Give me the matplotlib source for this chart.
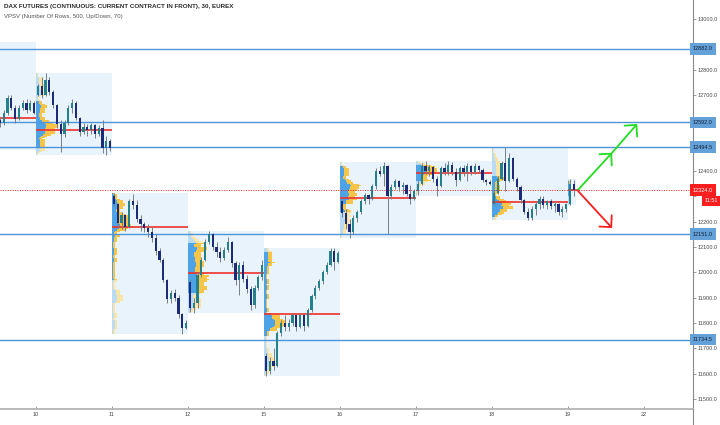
import matplotlib
matplotlib.use('Agg')
import matplotlib.pyplot as plt
import matplotlib.transforms as mtransforms
from matplotlib.patches import Rectangle
import numpy as np

plt.rcParams['font.family'] = ['Liberation Sans', 'DejaVu Sans']

# ---------------- data ----------------
title_main = 'DAX FUTURES (CONTINUOUS: CURRENT CONTRACT IN FRONT), 30, EUREX'
title_sub = 'VPSV (Number Of Rows, 500, Up/Down, 70)'

day_labels = ['10', '11', '12', '15', '16', '17', '18', '19', '22']
bars_per_session = 20

# bars: (open, high, low, close)
s09 = [(12600, 12615, 12575, 12590), (12590, 12640, 12580, 12630), (12630, 12700, 12620, 12690),
       (12690, 12700, 12640, 12650), (12650, 12660, 12590, 12605), (12605, 12660, 12600, 12650),
       (12650, 12680, 12640, 12670), (12670, 12685, 12630, 12640), (12640, 12680, 12635, 12670),
       (12670, 12675, 12625, 12630)]
s10 = [(12700, 12745, 12695, 12735), (12735, 12770, 12690, 12700), (12700, 12785, 12695, 12760),
       (12760, 12770, 12700, 12710), (12710, 12720, 12650, 12660), (12660, 12665, 12570, 12585),
       (12585, 12600, 12475, 12545), (12545, 12600, 12535, 12590), (12590, 12660, 12580, 12650),
       (12650, 12685, 12630, 12670), (12670, 12675, 12600, 12610), (12610, 12615, 12540, 12555),
       (12555, 12590, 12545, 12575), (12575, 12585, 12540, 12560), (12560, 12590, 12545, 12580),
       (12580, 12585, 12530, 12545), (12545, 12580, 12540, 12570), (12570, 12600, 12470, 12490),
       (12490, 12540, 12465, 12520), (12520, 12525, 12480, 12490)]
s11 = [(12300, 12315, 12260, 12270), (12270, 12275, 12175, 12195), (12195, 12240, 12170, 12225),
       (12225, 12230, 12165, 12180), (12180, 12290, 12175, 12280), (12280, 12310, 12250, 12265),
       (12265, 12285, 12200, 12210), (12210, 12225, 12165, 12190), (12190, 12200, 12160, 12175),
       (12175, 12190, 12140, 12160), (12160, 12180, 12120, 12135), (12135, 12150, 12070, 12085),
       (12085, 12095, 12040, 12050), (12050, 12055, 11960, 11970), (11970, 11975, 11880, 11895),
       (11895, 11930, 11880, 11920), (11920, 11935, 11885, 11900), (11900, 11910, 11820, 11835),
       (11835, 11840, 11755, 11780), (11780, 11810, 11775, 11800)]
s12 = [(11960, 11975, 11845, 11860), (11860, 11900, 11840, 11880), (11880, 12000, 11860, 11990),
       (11990, 12060, 11980, 12050), (12050, 12130, 12045, 12120), (12120, 12165, 12110, 12150),
       (12150, 12155, 12090, 12100), (12100, 12120, 12060, 12080), (12080, 12100, 12040, 12055),
       (12055, 12100, 12050, 12090), (12090, 12140, 12080, 12120), (12120, 12125, 12020, 12035),
       (12035, 12045, 11950, 11970), (11970, 12040, 11910, 12030), (12030, 12045, 11960, 11975),
       (11975, 11990, 11920, 11935), (11935, 11945, 11850, 11870), (11870, 11950, 11860, 11940),
       (11940, 11990, 11930, 11980), (11980, 12050, 11970, 12030)]
s15 = [(11670, 11680, 11590, 11610), (11610, 11665, 11600, 11650), (11650, 11700, 11615, 11630),
       (11630, 11770, 11625, 11760), (11760, 11810, 11750, 11800), (11800, 11830, 11770, 11785),
       (11785, 11815, 11770, 11800), (11800, 11840, 11790, 11830), (11830, 11835, 11770, 11785),
       (11785, 11840, 11780, 11830), (11830, 11835, 11770, 11790), (11790, 11860, 11785, 11850),
       (11850, 11915, 11845, 11905), (11905, 11950, 11895, 11940), (11940, 11975, 11930, 11965),
       (11965, 12010, 11955, 12000), (12000, 12040, 11995, 12030), (12030, 12095, 12025, 12085),
       (12085, 12095, 12010, 12040), (12040, 12085, 12035, 12075)]
s16 = [(12280, 12290, 12220, 12235), (12235, 12250, 12170, 12190), (12190, 12210, 12135, 12160),
       (12160, 12225, 12150, 12215), (12215, 12245, 12200, 12240), (12240, 12290, 12230, 12280),
       (12280, 12315, 12270, 12305), (12305, 12310, 12270, 12290), (12290, 12350, 12285, 12340),
       (12340, 12410, 12330, 12400), (12400, 12420, 12380, 12390), (12390, 12435, 12340, 12420),
       (12420, 12425, 12150, 12300), (12300, 12350, 12290, 12335), (12335, 12370, 12330, 12360),
       (12360, 12365, 12320, 12335), (12335, 12355, 12310, 12345), (12345, 12350, 12300, 12310),
       (12310, 12345, 12270, 12290), (12290, 12330, 12285, 12320)]
s17 = [(12320, 12365, 12305, 12350), (12350, 12430, 12345, 12420), (12420, 12440, 12390, 12400),
       (12400, 12425, 12380, 12415), (12415, 12420, 12355, 12370), (12370, 12380, 12300, 12340),
       (12340, 12420, 12335, 12410), (12410, 12430, 12385, 12395), (12395, 12440, 12385, 12425),
       (12425, 12435, 12385, 12395), (12395, 12410, 12340, 12365), (12365, 12420, 12360, 12410),
       (12410, 12425, 12380, 12395), (12395, 12430, 12360, 12420), (12420, 12425, 12385, 12395),
       (12395, 12430, 12390, 12420), (12420, 12425, 12395, 12405), (12405, 12410, 12355, 12365),
       (12365, 12370, 12345, 12355), (12355, 12365, 12345, 12350)]
s18 = [(12270, 12325, 12265, 12315), (12315, 12380, 12310, 12370), (12370, 12440, 12365, 12430),
       (12430, 12495, 12320, 12360), (12360, 12470, 12355, 12450), (12450, 12455, 12360, 12370),
       (12370, 12375, 12320, 12335), (12335, 12345, 12275, 12285), (12285, 12290, 12230, 12240),
       (12240, 12255, 12205, 12215), (12215, 12260, 12205, 12250), (12250, 12280, 12225, 12270),
       (12270, 12300, 12250, 12290), (12290, 12300, 12255, 12265), (12265, 12285, 12250, 12280),
       (12280, 12290, 12250, 12260), (12260, 12280, 12240, 12270), (12270, 12275, 12225, 12240),
       (12240, 12260, 12220, 12250), (12250, 12275, 12240, 12270)]
s19 = [(12270, 12370, 12265, 12350), (12350, 12365, 12300, 12324)]

session_slots = [-1, 0, 1, 2, 3, 4, 5, 6, 7]          # sessions 9 .. 19
session_bars = [s09, s10, s11, s12, s15, s16, s17, s18, s19]
session_first_bar = [10, 0, 0, 0, 0, 0, 0, 0, 0]
poc_prices = [12609, 12562, 12178, 11996, 11837, 12293, 12391, 12277, 12324]
prev_session_range = (12910, 12483)                    # session 9 box (high, low)

levels = [12882.0, 12592.0, 12494.5, 12151.0, 11734.5]
last_price = 12324.0
countdown = '11:51'
hidden_ticks = [12900, 12600, 12500, 12300]             # covered by the price boxes

arrow_times = [7.13, 7.58, 7.91]
target_up = [12325, 12472, 12586]
target_down = [12322, 12175]

# share of a bar's volume booked on its own side (Up/Down split)
own_side_share = 0.62

# ---------------- colours ----------------
C_UP = '#24808a'
C_DN = '#1c2a78'
C_WICK = '#787f88'
C_BOX = '#e8f3fc'
C_VA_UP = '#4ea2e6'
C_VA_DN = '#f6c447'
C_OUT_UP = '#b9dbf6'
C_OUT_DN = '#fbe4a6'
C_POC = '#f0302a'
C_LEVEL = '#4f93d8'
C_LEVEL_BOX = '#65a1d9'
C_RED = '#fa1e1e'

fig = plt.figure(figsize=(7.2, 4.25), dpi=100)
ax = fig.add_axes([0, 16 / 425, 693 / 720, 409 / 425])
ax.set_facecolor('white')

ax.set_xlim(-36 / 76, 657 / 76)
ax.set_ylim(11460.6, 13075)

bw = 1.0 / bars_per_session


def profile(bars, step=5.0):
    lo = min(b[2] for b in bars)
    hi = max(b[1] for b in bars)
    edges = np.arange(np.floor(lo / step) * step, np.ceil(hi / step) * step + step, step)
    centers = edges[:-1] + step / 2
    up = np.zeros(len(centers))
    dn = np.zeros(len(centers))
    for o, h, l, c in bars:
        m = (centers >= l) & (centers <= h)
        s = own_side_share if c >= o else 1 - own_side_share
        up[m] += s
        dn[m] += 1 - s
    tot = up + dn
    p = int(np.argmax(tot))
    lo_i = hi_i = p
    acc = tot[p]
    while acc < 0.7 * tot.sum():
        below = tot[lo_i - 1] if lo_i > 0 else -1
        above = tot[hi_i + 1] if hi_i < len(tot) - 1 else -1
        if above >= below:
            hi_i += 1
            acc += above
        else:
            lo_i -= 1
            acc += below
    in_va = np.zeros(len(tot), bool)
    in_va[lo_i:hi_i + 1] = True
    return centers, up, dn, in_va, step


for slot, bars, first, poc in zip(session_slots, session_bars, session_first_bar, poc_prices):
    n = len(bars)
    xs = slot + (np.arange(first, first + n) + 0.5) * bw
    o = np.array([b[0] for b in bars], float)
    h = np.array([b[1] for b in bars], float)
    l = np.array([b[2] for b in bars], float)
    c = np.array([b[3] for b in bars], float)

    if first == 0:
        x0 = slot
        x1 = slot + n * bw
        hi, lo = h.max(), l.min()
        centers, up, dn, in_va, step = profile(bars)
        scale = 0.28 * (x1 - x0) / (up + dn).max()
        ax.add_patch(Rectangle((x0, lo), x1 - x0, hi - lo, facecolor=C_BOX,
                               edgecolor='none', zorder=1))
        ax.barh(centers, up * scale, height=step, left=x0,
                color=np.where(in_va, C_VA_UP, C_OUT_UP), linewidth=0, zorder=2)
        ax.barh(centers, dn * scale, height=step, left=x0 + up * scale,
                color=np.where(in_va, C_VA_DN, C_OUT_DN), linewidth=0, zorder=2)
    else:
        x0 = slot
        x1 = slot + 1.0
        hi, lo = prev_session_range
        ax.add_patch(Rectangle((x0, lo), x1 - x0, hi - lo, facecolor=C_BOX,
                               edgecolor='none', zorder=1))
    if slot == session_slots[-1]:
        x1 = x1 + 0.03
    ax.plot([x0, x1], [poc, poc], color=C_POC, lw=1.2, zorder=3, solid_capstyle='butt')

    cols = np.where(c >= o, C_UP, C_DN)
    ax.vlines(xs, l, h, color=C_WICK, lw=0.7, zorder=4)
    body = np.maximum(np.abs(c - o), 3)
    ax.bar(xs, body, bottom=np.minimum(o, c), width=bw * 0.62, color=cols,
           linewidth=0, zorder=5)

# horizontal levels
for lv in levels:
    ax.axhline(lv, color=C_LEVEL, lw=1.0, zorder=3.5)
ax.axhline(last_price, color=C_RED, lw=0.7, ls=(0, (1, 1.5)), zorder=3.5)

# arrows
arrow_kw = dict(arrowstyle='->,head_length=0.6,head_width=0.6', lw=1.3,
                mutation_scale=10, shrinkA=0, shrinkB=0)
ax.annotate('', xy=(arrow_times[1], target_up[1]), xytext=(arrow_times[0], target_up[0]),
            arrowprops=dict(color='#22dd22', **arrow_kw), zorder=6)
ax.annotate('', xy=(arrow_times[2], target_up[2]), xytext=(arrow_times[1], target_up[1]),
            arrowprops=dict(color='#22dd22', **arrow_kw), zorder=6)
ax.annotate('', xy=(arrow_times[1], target_down[1]), xytext=(arrow_times[0], target_down[0]),
            arrowprops=dict(color=C_RED, **arrow_kw), zorder=6)

# axes styling
ax.set_xticks(range(len(day_labels)))
ax.set_xticklabels(day_labels)
yt = np.arange(11500, 13001, 100)
ax.set_yticks(yt)
ax.set_yticklabels(['' if v in hidden_ticks else f'{v:.1f}' for v in yt])
ax.yaxis.tick_right()
ax.tick_params(axis='y', length=2, width=0.6, color='#888888', labelsize=4,
               labelcolor='#4a4a4a', pad=1.5)
ax.tick_params(axis='x', length=2, width=0.6, color='#888888', labelsize=4,
               labelcolor='#4a4a4a', pad=2.5, direction='in')
for s in ['top', 'left']:
    ax.spines[s].set_visible(False)
ax.spines['bottom'].set_color('#b4b4b4')
ax.spines['bottom'].set_linewidth(1.3)
ax.spines['right'].set_color('#8a8a8a')
ax.spines['right'].set_linewidth(0.8)
fig.add_artist(plt.Line2D([693 / 720, 693 / 720], [0, 16 / 425], color='#8a8a8a', lw=0.8))

# right-axis labels
trans = mtransforms.blended_transform_factory(ax.transAxes, ax.transData)
for lv in levels:
    ax.text(1.0, lv, f'{lv:.1f}', transform=trans, ha='left', va='center', fontsize=4,
            color='#0f2238', clip_on=False, zorder=10,
            bbox=dict(boxstyle='square,pad=0.6', fc=C_LEVEL_BOX, ec='none'))
ax.text(1.0, last_price, f'{last_price:.1f}', transform=trans, ha='left', va='center',
        fontsize=4, color='white', clip_on=False, zorder=10,
        bbox=dict(boxstyle='square,pad=0.6', fc=C_RED, ec='none'))
fig.text(718 / 720, 1 - 201 / 425, countdown, ha='right', va='center', fontsize=4,
         color='white', bbox=dict(boxstyle='square,pad=0.45', fc=C_RED, ec='none'))

# titles
ax.text(0.006, 0.990, title_main, transform=ax.transAxes, ha='left', va='top',
        fontsize=4.5, fontweight='bold', color='#2a2a2a', zorder=10)
ax.text(0.006, 0.965, title_sub, transform=ax.transAxes, ha='left', va='top',
        fontsize=4.3, color='#555555', zorder=10)

fig.savefig('out.png', dpi=100, facecolor='white')
